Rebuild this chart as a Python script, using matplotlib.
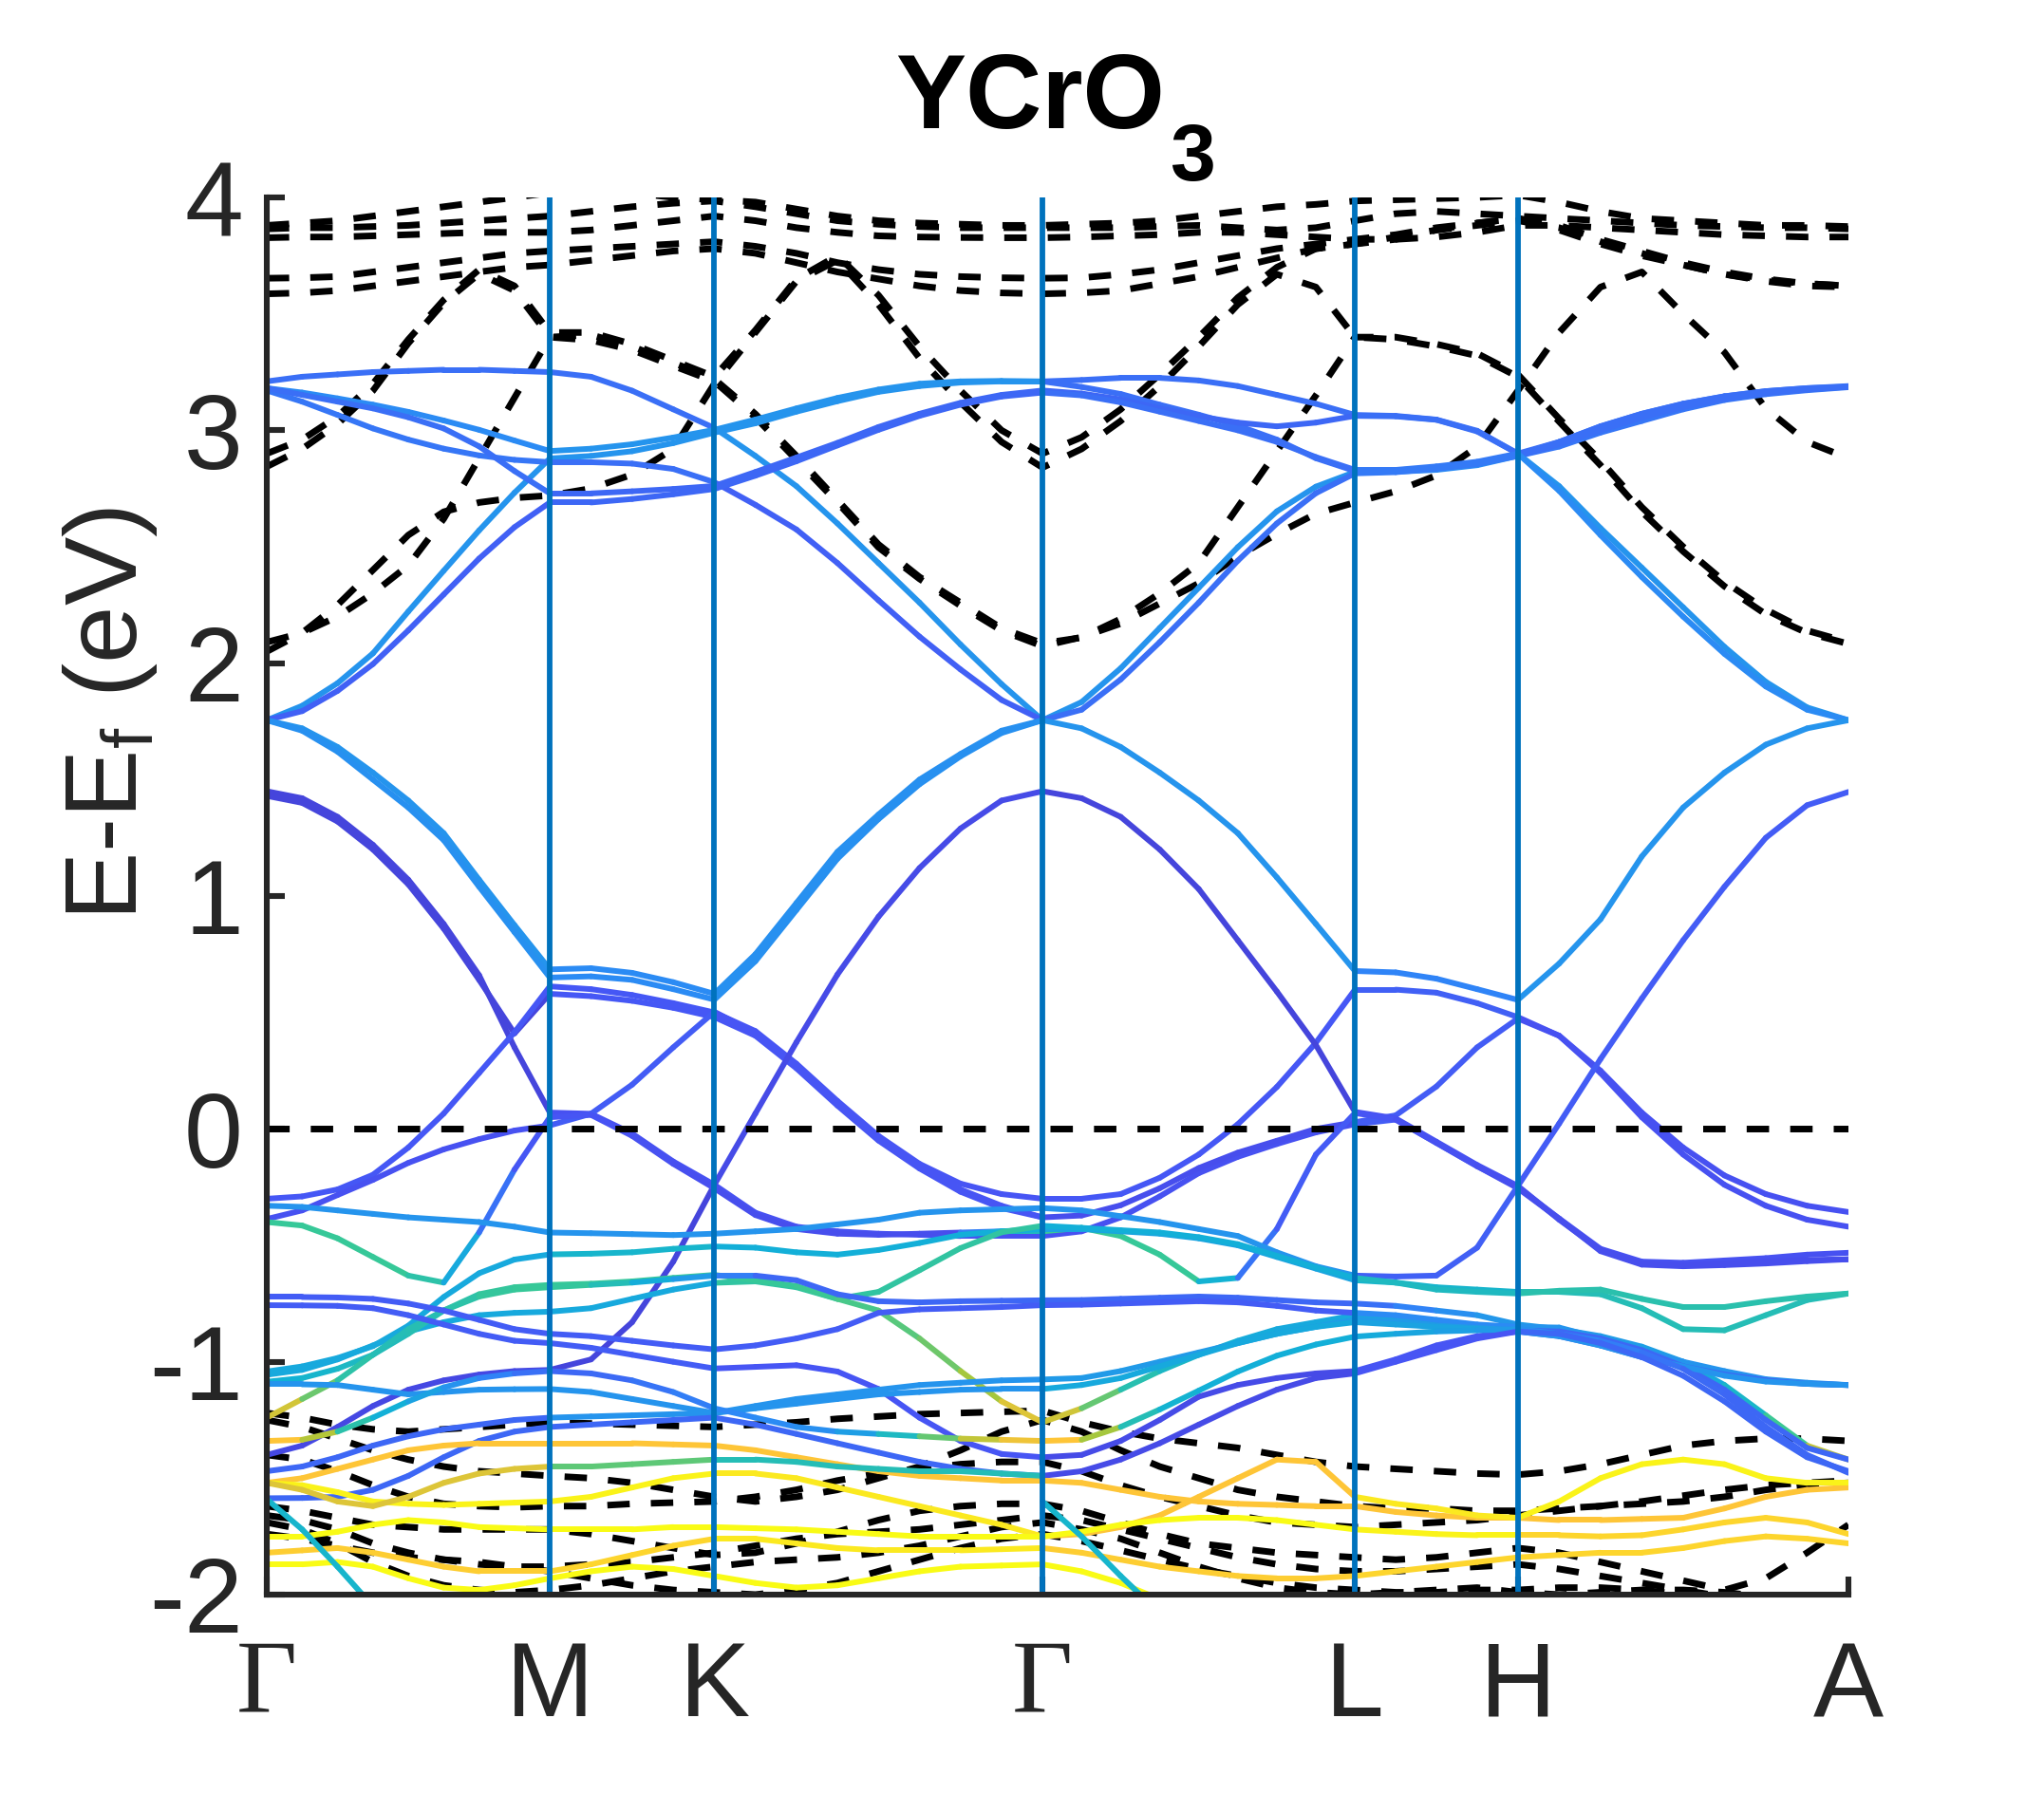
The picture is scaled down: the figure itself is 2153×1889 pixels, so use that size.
import matplotlib
matplotlib.use('Agg')
import matplotlib.pyplot as plt
import numpy as np
from matplotlib.collections import LineCollection
from matplotlib.colors import LinearSegmentedColormap

plt.rcParams['font.family'] = ['Liberation Sans', 'DejaVu Sans']
plt.rcParams['axes.unicode_minus'] = False
plt.rcParams['mathtext.fontset'] = 'custom'
plt.rcParams['mathtext.rm'] = 'Liberation Sans'
plt.rcParams['mathtext.it'] = 'Liberation Sans:italic'
plt.rcParams['mathtext.bf'] = 'Liberation Sans:bold'

nan = float('nan')

# ---------------- k-path ----------------
kpath_pos = [0.0, 0.179, 0.283, 0.4905, 0.688, 0.791, 1.0]
kpath_labels = ['Γ', 'M', 'K', 'Γ', 'L', 'H', 'A']
seg_samples = [8, 4, 8, 8, 4, 8]          # samples per path segment (41 points)
yticks = [-2, -1, 0, 1, 2, 3, 4]
ytick_labels = ['-2', '-1', '0', '1', '2', '3', '4']
title_main = 'YCrO'
title_sub = '3'

# ---------------- projected (coloured) bands, E - Ef in eV ----------------
# order of values: G-M (9) | M-K (4) | K-G (8) | G-L (8) | L-H (4) | H-A (8)
U1 = [3.21, 3.23, 3.24, 3.25, 3.255, 3.26, 3.26, 3.255, 3.25,
      3.23, 3.17, 3.09, 3.01,
      2.89, 2.76, 2.60, 2.43, 2.26, 2.08, 1.91, 1.755,
      1.833, 1.978, 2.151, 2.324, 2.498, 2.652, 2.758, 2.821,
      2.822, 2.83, 2.85, 2.89,
      2.93, 2.99, 3.04, 3.09, 3.13, 3.155, 3.172, 3.185]
U2 = [3.181, 3.162, 3.137, 3.110, 3.079, 3.042, 3.002, 2.956, 2.911,
      2.921, 2.940, 2.969, 3.002,
      3.046, 3.094, 3.139, 3.175, 3.200, 3.210, 3.212, 3.210,
      3.216, 3.225, 3.225, 3.214, 3.190, 3.152, 3.114, 3.066,
      3.062, 3.046, 2.998, 2.900,
      2.760, 2.580, 2.410, 2.240, 2.070, 1.920, 1.810, 1.755]
U2b = [1.755, 1.817, 1.914, 2.042, 2.222, 2.397, 2.570, 2.732, 2.879,
       2.890, 2.910, 2.945, 2.990,
       3.030, 3.080, 3.125, 3.165, 3.190, 3.205, 3.210, 3.210,
       3.186, 3.156, 3.110, 3.067, 3.020, 2.960, 2.880, 2.825,
       2.828, 2.840, 2.860, 2.895,
       2.950, 3.017, 3.071, 3.114, 3.146, 3.168, 3.181, 3.190]
U3 = [3.171, 3.123, 3.066, 3.008, 2.960, 2.921, 2.892, 2.873, 2.863,
      2.863, 2.857, 2.834, 2.777,
      2.680, 2.574, 2.430, 2.270, 2.114, 1.973, 1.842, 1.755,
      1.800, 1.930, 2.090, 2.260, 2.440, 2.600, 2.730, 2.815,
      2.820, 2.835, 2.855, 2.890,
      2.940, 3.000, 3.055, 3.100, 3.135, 3.160, 3.175, 3.187]
U4 = [3.181, 3.152, 3.123, 3.094, 3.056, 3.008, 2.931, 2.825, 2.729,
      2.729, 2.738, 2.748, 2.761,
      2.821, 2.883, 2.946, 3.014, 3.071, 3.118, 3.152, 3.171,
      3.158, 3.133, 3.094, 3.060, 3.033, 3.017, 3.033, 3.062,
      3.060, 3.045, 2.995, 2.900,
      2.950, 3.017, 3.071, 3.114, 3.146, 3.168, 3.181, 3.187]
U5 = [1.755, 1.794, 1.881, 1.996, 2.141, 2.295, 2.449, 2.584, 2.690,
      2.690, 2.705, 2.725, 2.748,
      2.805, 2.867, 2.935, 3.002, 3.062, 3.110, 3.145, 3.162,
      3.150, 3.120, 3.080, 3.040, 3.000, 2.950, 2.885, 2.830,
      2.830, 2.845, 2.865, 2.900,
      2.740, 2.550, 2.370, 2.200, 2.040, 1.900, 1.800, 1.755]
B1 = [1.755, 1.720, 1.640, 1.530, 1.410, 1.270, 1.070, 0.875, 0.685,
      0.690, 0.670, 0.630, 0.580,
      0.750, 0.970, 1.190, 1.350, 1.500, 1.610, 1.710, 1.755,
      1.720, 1.640, 1.530, 1.410, 1.270, 1.080, 0.880, 0.678,
      0.672, 0.645, 0.600, 0.554,
      0.710, 0.900, 1.170, 1.380, 1.530, 1.650, 1.720, 1.755]
B2 = [1.755, 1.710, 1.620, 1.500, 1.380, 1.240, 1.040, 0.845, 0.650,
      0.655, 0.640, 0.600, 0.555,
      0.720, 0.940, 1.160, 1.330, 1.480, 1.600, 1.700, 1.755,
      nan, nan, nan, nan, nan, nan, nan, nan,
      nan, nan, nan, nan,
      nan, nan, nan, nan, nan, nan, nan, nan]
X1 = [1.450, 1.420, 1.340, 1.220, 1.070, 0.880, 0.660, 0.350, 0.070,
      0.065, -0.020, -0.140, -0.240,
      -0.360, -0.420, -0.440, -0.450, -0.455, -0.460, -0.460, -0.460,
      -0.440, -0.380, -0.290, -0.190, -0.120, -0.065, -0.015, 0.020,
      0.040, -0.060, -0.160, -0.250,
      -0.385, -0.515, -0.570, -0.575, -0.565, -0.555, -0.540, -0.532]
X5 = [1.430, 1.400, 1.320, 1.200, 1.050, 0.860, 0.640, 0.410, 0.580,
      0.570, 0.550, 0.520, 0.480,
      0.400, 0.260, 0.100, -0.050, -0.170, -0.270, -0.340, -0.380,
      -0.372, -0.328, -0.255, -0.168, -0.102, -0.051, 0.000, 0.029,
      0.058, 0.182, 0.350, 0.474,
      0.400, 0.240, 0.050, -0.110, -0.240, -0.330, -0.390, -0.420]
X2 = [-0.300, -0.290, -0.260, -0.197, -0.080, 0.066, 0.240, 0.415, 0.612,
      0.600, 0.575, 0.540, 0.500,
      0.420, 0.280, 0.120, -0.030, -0.150, -0.235, -0.280, -0.300,
      -0.300, -0.280, -0.210, -0.110, 0.020, 0.180, 0.370, 0.598,
      0.598, 0.585, 0.540, 0.480,
      0.400, 0.250, 0.070, -0.080, -0.200, -0.280, -0.330, -0.357]
X3 = [-0.387, -0.350, -0.284, -0.219, -0.146, -0.088, -0.044, -0.007, 0.015,
      0.065, 0.190, 0.350, 0.503,
      0.410, 0.270, 0.110, -0.045, -0.165, -0.260, -0.330, -0.380,
      nan, nan, nan, nan, nan, nan, nan, nan,
      nan, nan, nan, nan,
      nan, nan, nan, nan, nan, nan, nan, nan]
X4 = [-1.400, -1.360, -1.280, -1.190, -1.120, -1.080, -1.055, -1.040, -1.035,
      -0.990, -0.830, -0.570, -0.240,
      0.066, 0.372, 0.663, 0.911, 1.120, 1.290, 1.410, 1.450,
      1.420, 1.340, 1.200, 1.030, 0.810, 0.590, 0.360, 0.073,
      0.045, -0.055, -0.155, -0.245,
      -0.390, -0.520, -0.578, -0.585, -0.578, -0.570, -0.563, -0.560]
X6 = [-0.400, -0.415, -0.470, -0.550, -0.630, -0.660, -0.445, -0.175, 0.050,
      0.060, -0.030, -0.150, -0.255,
      -0.370, -0.430, -0.450, -0.455, -0.450, -0.445, -0.440, -0.440,
      -0.425, -0.460, -0.540, -0.655, -0.640, -0.430, -0.110, 0.068,
      0.040, -0.060, -0.160, -0.255,
      -0.386, -0.525, -0.583, -0.590, -0.585, -0.578, -0.568, -0.560]
c1 = [-0.330, -0.335, -0.350, -0.365, -0.380, -0.390, -0.400, -0.420, -0.445,
      -0.448, -0.452, -0.456, -0.450,
      -0.440, -0.430, -0.410, -0.390, -0.360, -0.350, -0.345, -0.340,
      -0.350, -0.375, -0.400, -0.430, -0.460, -0.530, -0.590, -0.630,
      -0.634, -0.630, -0.510, -0.245,
      0.023, 0.300, 0.560, 0.810, 1.040, 1.250, 1.390, 1.447]
d1 = [-1.042, -1.020, -0.984, -0.933, -0.845, -0.722, -0.620, -0.561, -0.539,
      -0.536, -0.530, -0.515, -0.505,
      -0.510, -0.530, -0.540, -0.520, -0.490, -0.455, -0.440, -0.430,
      -0.430, -0.440, -0.450, -0.470, -0.500, -0.550, -0.600, -0.650,
      -0.660, -0.680, -0.690, -0.700,
      -0.700, -0.710, -0.770, -0.860, -0.865, -0.800, -0.735, -0.707]
h1 = [-1.056, -1.035, -0.990, -0.930, -0.870, -0.830, -0.800, -0.790, -0.785,
      -0.770, -0.730, -0.690, -0.661,
      -0.655, -0.680, -0.730, -0.700, -0.607, -0.512, -0.444, -0.416,
      -0.425, -0.435, -0.445, -0.465, -0.495, -0.545, -0.595, -0.640,
      -0.660, -0.690, -0.700, -0.707,
      -0.695, -0.690, -0.730, -0.765, -0.765, -0.740, -0.720, -0.707]
g1 = [-1.086, -1.070, -1.030, -0.970, -0.880, -0.780, -0.710, -0.680, -0.670,
      -0.665, -0.655, -0.640, -0.627,
      -0.650, -0.675, -0.730, -0.780, -0.900, -1.040, -1.170, -1.260,
      -1.200, -1.120, -1.040, -0.970, -0.910, -0.860, -0.830, -0.800,
      -0.820, -0.835, -0.850, -0.860,
      -0.880, -0.920, -0.970, -1.010, -1.050, -1.080, -1.095, -1.100]
e1 = [-1.240, -1.160, -1.080, -0.970, -0.860, -0.780, -0.720, -0.690, -0.680,
      -0.670, -0.660, -0.645, -0.630,
      -0.630, -0.650, -0.710, -0.740, -0.745, -0.740, -0.738, -0.736,
      -0.735, -0.730, -0.725, -0.720, -0.725, -0.735, -0.745, -0.750,
      -0.760, -0.780, -0.800, -0.840,
      -0.860, -0.890, -0.935, -1.000, -1.100, -1.230, -1.360, -1.420]
f1 = [-0.722, -0.722, -0.724, -0.730, -0.750, -0.780, -0.820, -0.860, -0.880,
      -0.890, -0.910, -0.930, -0.947,
      -0.930, -0.900, -0.860, -0.790, -0.775, -0.770, -0.765, -0.757,
      -0.755, -0.750, -0.745, -0.740, -0.745, -0.760, -0.780, -0.790,
      -0.800, -0.820, -0.840, -0.850,
      -0.853, -0.900, -0.950, -1.000, -1.040, -1.075, -1.090, -1.100]
f2 = [-0.757, -0.758, -0.760, -0.770, -0.800, -0.840, -0.880, -0.910, -0.920,
      -0.940, -0.970, -1.000, -1.029,
      -1.022, -1.015, -1.042, -1.117, -1.240, -1.340, -1.396, -1.410,
      -1.400, -1.340, -1.250, -1.150, -1.100, -1.070, -1.050, -1.040,
      -0.990, -0.930, -0.890, -0.870,
      -0.890, -0.930, -0.980, -1.020, -1.055, -1.080, -1.095, -1.100]
j1 = [-1.097, -1.097, -1.100, -1.120, -1.140, -1.130, -1.120, -1.118, -1.117,
      -1.130, -1.160, -1.190, -1.220,
      -1.190, -1.160, -1.140, -1.120, -1.100, -1.090, -1.080, -1.076,
      -1.070, -1.040, -1.000, -0.960, -0.920, -0.880, -0.850, -0.820,
      -0.830, -0.845, -0.855, -0.865,
      -0.870, -0.900, -0.950, -1.020, -1.120, -1.250, -1.370, -1.420]
k1 = [-1.470, -1.450, -1.410, -1.360, -1.320, -1.290, -1.270, -1.250, -1.240,
      -1.235, -1.230, -1.225, -1.220,
      -1.200, -1.180, -1.160, -1.140, -1.130, -1.120, -1.117, -1.117,
      -1.100, -1.070, -1.020, -0.970, -0.920, -0.880, -0.850, -0.830,
      -0.840, -0.850, -0.860, -0.870,
      -0.890, -0.930, -0.980, -1.020, -1.060, -1.085, -1.095, -1.100]
e2 = [-1.340, -1.335, -1.300, -1.240, -1.170, -1.110, -1.070, -1.050, -1.040,
      -1.050, -1.080, -1.130, -1.200,
      -1.240, -1.280, -1.300, -1.310, -1.320, -1.330, -1.335, -1.340,
      -1.335, -1.280, -1.205, -1.124, -1.042, -0.974, -0.926, -0.892,
      -0.880, -0.870, -0.865, -0.860,
      -0.880, -0.910, -0.960, -1.030, -1.140, -1.280, -1.400, -1.477]
l1 = [-1.586, -1.585, -1.580, -1.550, -1.490, -1.410, -1.340, -1.300, -1.280,
      -1.270, -1.260, -1.250, -1.240,
      -1.270, -1.310, -1.350, -1.390, -1.430, -1.460, -1.480, -1.490,
      -1.470, -1.420, -1.350, -1.270, -1.190, -1.120, -1.070, -1.050,
      -1.000, -0.950, -0.900, -0.870,
      -0.880, -0.920, -0.980, -1.060, -1.170, -1.300, -1.410, -1.470]
Y3 = [-1.520, -1.500, -1.460, -1.420, -1.380, -1.360, -1.350, -1.350, -1.350,
      -1.350, -1.350, -1.355, -1.360,
      -1.380, -1.410, -1.440, -1.470, -1.490, -1.500, -1.510, -1.510,
      -1.520, -1.550, -1.580, -1.600, -1.610, -1.615, -1.620, -1.620,
      -1.645, -1.660, -1.670, -1.670,
      -1.680, -1.680, -1.675, -1.670, -1.630, -1.580, -1.550, -1.540]
Y4 = [-1.520, -1.530, -1.560, -1.600, -1.610, -1.615, -1.610, -1.605, -1.600,
      -1.580, -1.540, -1.500, -1.480,
      -1.480, -1.500, -1.540, -1.580, -1.620, -1.660, -1.700, -1.750,
      -1.740, -1.710, -1.660, -1.580, -1.500, -1.420, -1.430, -1.580,
      -1.610, -1.630, -1.660, -1.670,
      -1.600, -1.500, -1.440, -1.420, -1.440, -1.500, -1.520, -1.520]
Y5 = [-1.750, -1.750, -1.730, -1.700, -1.680, -1.690, -1.710, -1.715, -1.720,
      -1.720, -1.720, -1.710, -1.710,
      -1.715, -1.720, -1.730, -1.740, -1.750, -1.750, -1.750, -1.750,
      -1.730, -1.700, -1.680, -1.670, -1.670, -1.680, -1.700, -1.720,
      -1.730, -1.740, -1.745, -1.745,
      -1.745, -1.750, -1.745, -1.720, -1.690, -1.670, -1.690, -1.740]
Y6 = [-1.820, -1.810, -1.800, -1.820, -1.850, -1.880, -1.900, -1.900, -1.900,
      -1.870, -1.830, -1.790, -1.760,
      -1.760, -1.780, -1.800, -1.810, -1.810, -1.810, -1.805, -1.800,
      -1.820, -1.850, -1.880, -1.900, -1.920, -1.930, -1.930, -1.920,
      -1.900, -1.880, -1.860, -1.840,
      -1.830, -1.820, -1.820, -1.800, -1.770, -1.750, -1.760, -1.780]
Y7 = [-1.870, -1.870, -1.860, -1.880, -1.930, -1.970, -1.980, -1.960, -1.930,
      -1.900, -1.880, -1.890, -1.920,
      -1.950, -1.970, -1.960, -1.930, -1.900, -1.880, -1.875, -1.870,
      -1.900, -1.950, -2.020, -2.080, nan, nan, nan, nan,
      nan, nan, nan, nan,
      nan, nan, nan, nan, nan, nan, nan, nan]
Y8 = [-1.520, -1.550, -1.600, -1.620, -1.580, -1.520, -1.480, -1.460, -1.450,
      -1.450, -1.440, -1.430, -1.420,
      -1.420, -1.430, -1.450, -1.460, -1.470, -1.470, -1.480, -1.490,
      nan, nan, nan, nan, nan, nan, nan, nan,
      nan, nan, nan, nan,
      nan, nan, nan, nan, nan, nan, nan, nan]
t1 = [-1.590, -1.720, -1.880, -2.050, nan, nan, nan, nan, nan,
      nan, nan, nan, nan,
      nan, nan, nan, nan, nan, nan, nan, nan,
      nan, nan, nan, nan, nan, nan, nan, nan,
      nan, nan, nan, nan,
      nan, nan, nan, nan, nan, nan, nan, nan]
t2 = [nan, nan, nan, nan, nan, nan, nan, nan, nan,
      nan, nan, nan, nan,
      nan, nan, nan, nan, nan, nan, nan, -1.600,
      -1.750, -1.920, -2.080, nan, nan, nan, nan, nan,
      nan, nan, nan, nan,
      nan, nan, nan, nan, nan, nan, nan, nan]

# projection weights (0 = blue/purple ... 1 = yellow); 6 values = one per segment
W = {
    'U1': [.22, .22, .33, .33, .30, .24], 'U2': [.30, .33, .33, .22, .22, .33],
    'U2b': [.33, .33, .33, .22, .25, .24], 'U3': [.24, .22, .18, .22, .25, .22],
    'U4': [.22, .20, .20, .20, .22, .22], 'U5': [.18, .20, .20, .22, .25, .30],
    'B1': [.33, .30, .32, .33, .28, .33], 'B2': [.32, .30, .32, .32, .32, .32],
    'X1': [.10, .14, .14, .14, .17, .14], 'X5': [.10, .16, .15, .13, .17, .14],
    'X2': [.16, .16, .15, .16, .18, .14], 'X3': [.14, .17, .15, .15, .15, .15],
    'X4': [.11, .10, .12, .10, .14, .13],
    'X6': [.57, .57, .57, .57, .57, .50, .30, .16, .15,
           .15, .14, .14, .13,
           .13, .13, .13, .13, .13, .13, .40, .57,
           .57, .57, .57, .57, .30, .17, .17, .16,
           .14, .14, .14, .13,
           .13, .13, .13, .13, .13, .13, .13, .13],
    'c1': [.33, .33, .33, .33, .18, .17], 'd1': [.40, .45, .42, .38, .45, .50],
    'h1': [.40, .40, .55, .42, .48, .52],
    'g1': [.42, .44, .46, .48, .50, .52, .55, .57, .57,
           .57, .57, .57, .57,
           .57, .57, .58, .60, .62, .66, .75, .85,
           .70, .55, .48, .45, .42, .40, .40, .40,
           .38, .36, .35, .33,
           .33, .33, .33, .33, .33, .33, .33, .33],
    'e1': [.86, .70, .57, .50, .50, .52, .55, .57, .57,
           .55, .45, .38, .33,
           .20, .20, .20, .20, .20, .20, .20, .20,
           .20, .20, .20, .20, .20, .20, .20, .20,
           .25, .30, .33, .35,
           .35, .35, .36, .38, .42, .50, .65, .86],
    'f1': [.17, .17, .17, .17, .30, .33], 'f2': [.17, .17, .15, .12, .15, .20],
    'j1': [.33, .33, .33, .35, .35, .20], 'k1': [.20, .33, .33, .40, .38, .33],
    'e2': [.86, .86, .60, .45, .40, .35, .30, .25, .20,
           .20, .22, .25, .28,
           .30, .30, .33, .40, .55, .70, .80, .86,
           .86, .55, .45, .43, .42, .42, .42, .42,
           .40, .38, .36, .34,
           .30, .28, .25, .22, .20, .20, .20, .20],
    'l1': [.20, .20, .20, .12, .15, .20],
    'Y3': [.86, .86, .86, .86, .86, .86], 'Y4': [.98, .98, .95, .86, .95, .98],
    'Y5': [1.0, 1.0, 1.0, 1.0, .98, .90], 'Y6': [.88, .90, .95, .88, .90, .90],
    'Y7': [1.0, 1.0, 1.0, 1.0, 1.0, 1.0], 'Y8': [.80, .62, .50, .40, .40, .40],
    't1': [.45, .45, .45, .45, .45, .45], 't2': [.45, .45, .45, .45, .45, .45],
}

# ---------------- non-projected bands (black dashed) ----------------
DA = [2.05, 2.13, 2.25, 2.40, 2.55, 2.65, 2.69, 2.71, 2.72,
      2.75, 2.81, 2.92, 3.20,
      3.42, 3.64, 3.73, 3.54, 3.31, 3.12, 2.95, 2.84,
      2.92, 3.04, 3.19, 3.36, 3.54, 3.67, 3.615, 3.40,
      3.39, 3.36, 3.32, 3.23,
      3.037, 2.85, 2.65, 2.48, 2.33, 2.21, 2.13, 2.083]
DB = [2.09, 2.13, 2.20, 2.30, 2.42, 2.62, 2.88, 3.14, 3.40,
      3.387, 3.345, 3.277, 3.21,
      3.056, 2.873, 2.69, 2.497, 2.362, 2.247, 2.14, 2.073,
      2.112, 2.17, 2.256, 2.343, 2.459, 2.555, 2.642, 2.69,
      2.738, 2.806, 2.93, 3.17,
      3.42, 3.615, 3.68, 3.50, 3.335, 3.094, 2.95, 2.88]
DC = [2.844, 2.92, 3.027, 3.17, 3.374, 3.547, 3.672, 3.60, 3.40,
      3.41, 3.36, 3.29, 3.22,
      3.07, 2.89, 2.70, 2.51, 2.37, 2.26, 2.15, 2.085,
      2.11, 2.19, 2.30, 2.43, 2.67, 2.91, 3.15, 3.40,
      3.40, 3.37, 3.33, 3.24,
      3.05, 2.87, 2.67, 2.50, 2.35, 2.23, 2.14, 2.09]
DD = [2.90, 2.96, 3.06, 3.20, 3.39, 3.56, 3.69, 3.62, 3.42,
      3.42, 3.37, 3.30, 3.23,
      3.43, 3.65, 3.75, 3.58, 3.36, 3.17, 3.00, 2.90,
      2.97, 3.09, 3.24, 3.40, 3.57, 3.70, 3.78, 3.80,
      3.82, 3.86, 3.89, 3.91,
      3.86, 3.80, 3.75, 3.71, 3.67, 3.645, 3.63, 3.62]
E1 = [3.586, 3.59, 3.60, 3.62, 3.64, 3.66, 3.68, 3.70, 3.71,
      3.73, 3.75, 3.77, 3.78,
      3.76, 3.72, 3.68, 3.65, 3.62, 3.60, 3.59, 3.586,
      3.59, 3.60, 3.63, 3.66, 3.70, 3.74, 3.78, 3.80,
      3.83, 3.86, 3.88, 3.90,
      3.87, 3.81, 3.76, 3.71, 3.67, 3.64, 3.62, 3.615]
E2 = [3.653, 3.655, 3.66, 3.68, 3.70, 3.72, 3.74, 3.76, 3.77,
      3.78, 3.79, 3.80, 3.81,
      3.79, 3.76, 3.72, 3.69, 3.67, 3.66, 3.655, 3.653,
      3.655, 3.67, 3.69, 3.72, 3.75, 3.78, 3.80, 3.82,
      3.84, 3.87, 3.89, 3.91,
      3.88, 3.82, 3.77, 3.72, 3.68, 3.65, 3.63, 3.62]
E3 = [3.827, 3.83, 3.83, 3.835, 3.84, 3.845, 3.85, 3.85, 3.85,
      3.86, 3.88, 3.90, 3.92,
      3.90, 3.87, 3.85, 3.835, 3.83, 3.828, 3.827, 3.827,
      3.83, 3.835, 3.84, 3.85, 3.85, 3.84, 3.83, 3.82,
      3.82, 3.83, 3.85, 3.88,
      3.88, 3.87, 3.86, 3.85, 3.84, 3.835, 3.83, 3.83]
E4 = [3.865, 3.87, 3.87, 3.875, 3.88, 3.89, 3.90, 3.91, 3.92,
      3.94, 3.96, 3.975, 3.985,
      3.96, 3.93, 3.90, 3.885, 3.875, 3.87, 3.87, 3.87,
      3.87, 3.87, 3.875, 3.88, 3.87, 3.86, 3.87, 3.90,
      3.93, 3.94, 3.93, 3.92,
      3.91, 3.90, 3.89, 3.88, 3.875, 3.87, 3.87, 3.865]
E5 = [3.88, 3.89, 3.90, 3.92, 3.94, 3.96, 3.98, 4.00, 4.02,
      4.03, 4.02, 4.00, 3.99,
      3.98, 3.95, 3.92, 3.90, 3.89, 3.885, 3.88, 3.88,
      3.885, 3.89, 3.90, 3.92, 3.94, 3.96, 3.97, 3.985,
      3.99, 3.995, 4.00, 4.01,
      3.98, 3.94, 3.91, 3.90, 3.89, 3.88, 3.88, 3.875]
F1 = [-1.220, -1.240, -1.270, -1.290, -1.300, -1.290, -1.280, -1.270, -1.260,
      -1.265, -1.270, -1.275, -1.280,
      -1.270, -1.260, -1.245, -1.235, -1.225, -1.220, -1.215, -1.210,
      -1.260, -1.300, -1.330, -1.350, -1.370, -1.400, -1.430, -1.450,
      -1.460, -1.470, -1.480, -1.485,
      -1.470, -1.440, -1.400, -1.360, -1.340, -1.330, -1.330, -1.340]
F2 = [-1.250, -1.280, -1.330, -1.380, -1.420, -1.450, -1.470, -1.480, -1.490,
      -1.500, -1.520, -1.550, -1.580,
      -1.600, -1.580, -1.550, -1.500, -1.450, -1.380, -1.300, -1.250,
      -1.300, -1.380, -1.450, -1.500, -1.550, -1.580, -1.600, -1.620,
      -1.630, -1.630, -1.640, -1.640,
      -1.630, -1.620, -1.610, -1.600, -1.580, -1.550, -1.530, -1.520]
F3 = [-1.400, -1.420, -1.470, -1.530, -1.580, -1.610, -1.620, -1.625, -1.620,
      -1.620, -1.610, -1.605, -1.600,
      -1.580, -1.550, -1.510, -1.480, -1.460, -1.440, -1.430, -1.430,
      -1.470, -1.530, -1.580, -1.620, -1.660, -1.690, -1.700, -1.710,
      -1.700, -1.690, -1.680, -1.660,
      -1.640, -1.620, -1.600, -1.575, -1.550, -1.530, -1.520, -1.510]
F4 = [-1.620, -1.640, -1.670, -1.700, -1.710, -1.720, -1.720, -1.720, -1.720,
      -1.740, -1.770, -1.800, -1.830,
      -1.820, -1.780, -1.730, -1.680, -1.640, -1.620, -1.610, -1.610,
      -1.640, -1.690, -1.740, -1.780, -1.800, -1.820, -1.830, -1.840,
      -1.850, -1.840, -1.820, -1.800,
      -1.820, -1.860, -1.900, -1.940, -1.980, -1.930, -1.820, -1.700]
F5 = [-1.660, -1.680, -1.720, -1.780, -1.820, -1.850, -1.870, -1.880, -1.880,
      -1.870, -1.860, -1.840, -1.820,
      -1.790, -1.760, -1.740, -1.730, -1.720, -1.700, -1.680, -1.660,
      -1.680, -1.720, -1.760, -1.800, -1.840, -1.870, -1.890, -1.900,
      -1.900, -1.890, -1.880, -1.870,
      -1.890, -1.920, -1.950, -1.980, -2.010, -2.030, -2.030, -2.020]
F6 = [-1.690, -1.720, -1.780, -1.860, -1.920, -1.960, -1.980, -1.990, -1.980,
      -1.960, -1.930, -1.900, -1.880,
      -1.860, -1.850, -1.840, -1.820, -1.790, -1.750, -1.710, -1.690,
      -1.720, -1.760, -1.820, -1.880, -1.930, -1.970, -1.990, -2.000,
      -1.990, -1.980, -1.970, -1.990,
      -2.000, -1.990, -1.980, -1.980, -1.990, -2.010, -2.020, -2.030]
F7 = [-1.740, -1.760, -1.790, -1.820, -1.840, -1.850, -1.860, -1.880, -1.900,
      -1.930, -1.960, -1.980, -1.990,
      -2.000, -1.980, -1.950, -1.900, -1.850, -1.800, -1.760, -1.740,
      -1.770, -1.810, -1.850, -1.890, -1.920, -1.950, -1.970, -1.980,
      -1.990, -1.990, -1.980, -1.980,
      -1.970, -1.970, -1.980, -2.000, -2.020, -2.040, -2.050, -2.050]

colored = {'U1': U1, 'U2': U2, 'U2b': U2b, 'U3': U3, 'U4': U4, 'U5': U5,
           'B1': B1, 'B2': B2, 'X1': X1, 'X5': X5, 'X2': X2, 'X3': X3,
           'X4': X4, 'X6': X6, 'c1': c1, 'd1': d1, 'h1': h1, 'g1': g1,
           'e1': e1, 'f1': f1, 'f2': f2, 'j1': j1, 'k1': k1, 'e2': e2,
           'l1': l1, 'Y3': Y3, 'Y4': Y4, 'Y5': Y5, 'Y6': Y6, 'Y7': Y7,
           'Y8': Y8, 't1': t1, 't2': t2}
dashed = {'DA': DA, 'DB': DB, 'DC': DC, 'DD': DD, 'E1': E1, 'E2': E2,
          'E3': E3, 'E4': E4, 'E5': E5, 'F1': F1, 'F2': F2, 'F3': F3,
          'F4': F4, 'F5': F5, 'F6': F6, 'F7': F7}

# ---------------- k grid along the path ----------------
k = [kpath_pos[0]]
for s, n in enumerate(seg_samples):
    a, b = kpath_pos[s], kpath_pos[s + 1]
    for j in range(1, n + 1):
        k.append(a + (b - a) * j / n)
k = np.array(k)
NP = len(k)
for name, arr in list(colored.items()) + list(dashed.items()):
    if len(arr) != NP:
        raise ValueError(f'{name} has {len(arr)} values, expected {NP}')

parula_like = LinearSegmentedColormap.from_list('parula_like', [
    (0.2422, 0.1504, 0.6603), (0.2810, 0.3228, 0.9579),
    (0.1786, 0.5289, 0.9682), (0.0689, 0.6948, 0.8394),
    (0.2161, 0.7843, 0.5923), (0.6720, 0.7793, 0.2227),
    (0.9970, 0.7659, 0.2199), (0.9769, 0.9839, 0.0805)])


def seg_weights(w):
    if len(w) == len(seg_samples):
        return [w[s] for s, n in enumerate(seg_samples) for _ in range(n)]
    return [(w[i] + w[i + 1]) / 2 for i in range(len(w) - 1)]


# ---------------- figure ----------------
W_PX, H_PX, DPI = 2153, 1889, 200
fig = plt.figure(figsize=(W_PX / DPI, H_PX / DPI), dpi=DPI)
ax = fig.add_axes([281 / W_PX, 1 - 1680 / H_PX, 1666 / W_PX, 1472 / H_PX])

dash_style = (0, (3.4, 3.2))
for name, E in dashed.items():
    ax.plot(k, E, color='black', lw=2.5, linestyle=dash_style, zorder=2)

for name, E in colored.items():
    E = np.asarray(E, dtype=float)
    sw = seg_weights(W[name])
    segs, cols = [], []
    for i in range(NP - 1):
        if np.isnan(E[i]) or np.isnan(E[i + 1]):
            continue
        segs.append([(k[i], E[i]), (k[i + 1], E[i + 1])])
        cols.append(parula_like(sw[i]))
    lc = LineCollection(segs, colors=cols, linewidths=2.15, capstyle='round',
                        joinstyle='round', zorder=3)
    ax.add_collection(lc)

ax.axhline(0, color='black', lw=2.5, linestyle=dash_style, zorder=4)
for xv in kpath_pos[1:-1]:
    ax.axvline(xv, color=(0.0, 0.447, 0.741), lw=2.1, zorder=5)

ax.set_xlim(kpath_pos[0], kpath_pos[-1])
ax.set_ylim(yticks[0], yticks[-1])
axis_col = (0.15, 0.15, 0.15)
for sp in ['top', 'right']:
    ax.spines[sp].set_visible(False)
for sp in ['left', 'bottom']:
    ax.spines[sp].set_linewidth(2.2)
    ax.spines[sp].set_color(axis_col)
    ax.spines[sp].set_zorder(6)

ax.set_yticks(yticks)
ax.set_yticklabels(ytick_labels)
ax.set_xticks(kpath_pos)
ax.set_xticklabels(kpath_labels)
ax.tick_params(direction='in', length=6.8, width=2.2, colors=axis_col,
               labelsize=40)
ax.tick_params(axis='y', pad=9)
ax.tick_params(axis='x', pad=17)
for lbl in ax.get_xticklabels():
    if lbl.get_text() == 'Γ':
        lbl.set_fontfamily(['Liberation Serif', 'DejaVu Serif'])

ax.set_ylabel(r'E-E$_{\mathrm{f}}$ (eV)', fontsize=39, color=axis_col)
ax.yaxis.set_label_coords(-0.068, 0.63)

fig.text(1085 / W_PX, 1 - 135 / H_PX, title_main, fontsize=40,
         fontweight='bold', ha='center', va='baseline', color='black')
fig.text(1232 / W_PX, 1 - 190 / H_PX, title_sub, fontsize=31,
         fontweight='bold', ha='left', va='baseline', color='black')

fig.savefig('out.png', dpi=DPI)
